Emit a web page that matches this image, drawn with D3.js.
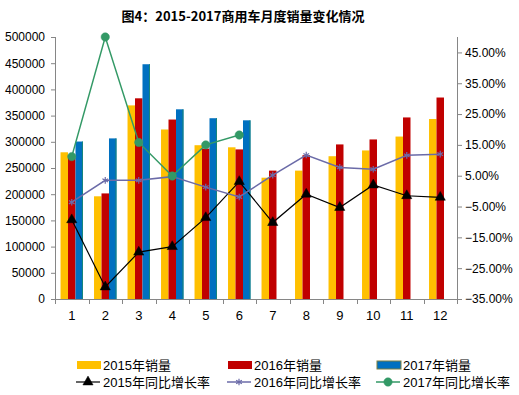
<!DOCTYPE html>
<html>
<head>
<meta charset="utf-8">
<script src="https://cdn.jsdelivr.net/npm/d3@7"></script>
<style>
  body { margin: 0; background: #fff; }
  text { font-family: "Liberation Sans", "Noto Sans CJK SC", sans-serif; }
</style>
</head>
<body>
<div id="viz"></div>
<script>
var months = ['1', '2', '3', '4', '5', '6', '7', '8', '9', '10', '11', '12'];
var years = ['2015', '2016', '2017'];

var sales2015 = [280000, 196000, 369500, 323500, 293500, 289500, 231500, 245000, 272500, 283500, 310000, 343500];
var sales2016 = [270000, 201500, 383000, 342500, 287000, 285500, 245000, 274500, 295000, 304500, 346500, 384500];
var sales2017 = [300500, 306500, 448000, 362000, 345000, 341000];

var growth2015 = [-0.093, -0.311, -0.198, -0.180, -0.086, 0.031, -0.102, -0.010, -0.053, 0.020, -0.015, -0.020];
var growth2016 = [-0.036, 0.035, 0.035, 0.047, 0.013, -0.019, 0.052, 0.117, 0.077, 0.071, 0.116, 0.120];
var growth2017 = [0.112, 0.500, 0.158, 0.049, 0.150, 0.182];

var leftTicks = [0, 50000, 100000, 150000, 200000, 250000, 300000, 350000, 400000, 450000, 500000];
var rightTicks = [-0.35, -0.25, -0.15, -0.05, 0.05, 0.15, 0.25, 0.35, 0.45];

var width = 519,
    height = 395,
    plotL = 55,
    plotR = 457,
    plotT = 37,
    plotB = 299;

var barColors = ['#FFC000', '#C00000', '#0070C0'];
var axisColor = '#868686';

var svg = d3.select('#viz').append('svg')
  .attr('width', width)
  .attr('height', height)
  .style('background', '#fff');

var x0 = d3.scaleBand()
  .domain(months)
  .range([plotL, plotR])
  .paddingInner(0.33)
  .paddingOuter(0.165);

var x1 = d3.scaleBand()
  .domain(years)
  .range([0, x0.bandwidth()]);

var yL = d3.scaleLinear().domain([0, 500000]).range([plotB, plotT]);
var yR = d3.scaleLinear().domain([-0.35, 0.5]).range([plotB, plotT]);

function cx(m) { return x0(m) + x0.bandwidth() / 2; }

// title
svg.append('text')
  .attr('x', 243)
  .attr('y', 21)
  .attr('text-anchor', 'middle')
  .style('font-size', '13px')
  .style('font-weight', 'bold')
  .style('font-family', '"Noto Sans CJK SC", sans-serif')
  .text('图4：2015-2017商用车月度销量变化情况');

// bars
var series = [sales2015, sales2016, sales2017];
series.forEach(function(vals, s) {
  svg.append('g').selectAll('rect')
    .data(vals)
    .enter().append('rect')
      .attr('x', function(d, i) { return x0(months[i]) + x1(years[s]); })
      .attr('width', x1.bandwidth())
      .attr('y', function(d) { return yL(d); })
      .attr('height', function(d) { return plotB - yL(d); })
      .attr('fill', barColors[s]);
});
// teal edge on the 2017 bars
svg.append('g').selectAll('line')
  .data(sales2017)
  .enter().append('line')
    .attr('x1', function(d, i) { return x0(months[i]) + x1('2017') + x1.bandwidth() - 0.5; })
    .attr('x2', function(d, i) { return x0(months[i]) + x1('2017') + x1.bandwidth() - 0.5; })
    .attr('y1', function(d) { return yL(d); })
    .attr('y2', plotB)
    .attr('stroke', '#17867A')
    .attr('stroke-width', 1);

// axes
var axisL = svg.append('g')
  .attr('transform', 'translate(' + plotL + ',0)')
  .call(d3.axisLeft(yL).tickValues(leftTicks).tickFormat(d3.format('d')).tickSize(4).tickPadding(6));

var axisR = svg.append('g')
  .attr('transform', 'translate(' + plotR + ',0)')
  .call(d3.axisRight(yR).tickValues(rightTicks).tickFormat(d3.format('.2%')).tickSize(5).tickPadding(3));

[axisL, axisR].forEach(function(a) {
  a.select('.domain').attr('stroke', axisColor).attr('d', 'M0.5,' + plotT + 'V' + plotB);
  a.selectAll('.tick line').attr('stroke', axisColor);
  a.selectAll('.tick text')
    .attr('fill', '#000')
    .style('font-size', '12px')
    .style('font-family', '"Liberation Sans", sans-serif');
});

// bottom axis with ticks between categories
var step = x0.step();
var bx = svg.append('g');
bx.append('line')
  .attr('x1', plotL).attr('x2', plotR)
  .attr('y1', plotB + 0.5).attr('y2', plotB + 0.5)
  .attr('stroke', axisColor);
bx.selectAll('line.tk')
  .data(d3.range(months.length + 1))
  .enter().append('line')
    .attr('class', 'tk')
    .attr('x1', function(i) { return Math.round(plotL + i * step) + 0.5; })
    .attr('x2', function(i) { return Math.round(plotL + i * step) + 0.5; })
    .attr('y1', plotB)
    .attr('y2', plotB + 5)
    .attr('stroke', axisColor);
bx.selectAll('text')
  .data(months)
  .enter().append('text')
    .attr('x', function(d) { return cx(d); })
    .attr('y', 320)
    .attr('text-anchor', 'middle')
    .style('font-size', '13px')
    .text(function(d) { return d; });

// growth lines
var lineStyles = [
  { vals: growth2015, color: '#000000', width: 1.2, symbol: d3.symbolTriangle, size: 45, fill: true },
  { vals: growth2016, color: '#6B6BA8', width: 1.5, symbol: d3.symbolAsterisk, size: 30, fill: false },
  { vals: growth2017, color: '#339966', width: 1.5, symbol: d3.symbolCircle, size: 55, fill: true }
];

var line = d3.line()
  .x(function(d, i) { return cx(months[i]); })
  .y(function(d) { return yR(d); });

lineStyles.forEach(function(st) {
  svg.append('path')
    .datum(st.vals)
    .attr('d', line)
    .attr('fill', 'none')
    .attr('stroke', st.color)
    .attr('stroke-width', st.width);
  svg.append('g').selectAll('path')
    .data(st.vals)
    .enter().append('path')
      .attr('d', d3.symbol().type(st.symbol).size(st.size))
      .attr('transform', function(d, i) {
        return 'translate(' + cx(months[i]) + ',' + yR(d) + ')';
      })
      .attr('fill', st.fill ? st.color : 'none')
      .attr('stroke', st.color)
      .attr('stroke-width', st.fill ? 0.5 : 1.2);
});

// legend
var legendX = [77, 228, 377];
var legendBars = ['2015年销量', '2016年销量', '2017年销量'];
var legendLines = ['2015年同比增长率', '2016年同比增长率', '2017年同比增长率'];

var lg = svg.append('g');
legendBars.forEach(function(name, i) {
  lg.append('rect')
    .attr('x', legendX[i])
    .attr('y', 361)
    .attr('width', 24)
    .attr('height', 8)
    .attr('fill', barColors[i])
    .attr('stroke', i === 2 ? '#7F7F3F' : 'none')
    .attr('stroke-width', 1);
  lg.append('text')
    .attr('x', legendX[i] + 26)
    .attr('y', 370)
    .style('font-size', '13px')
    .text(name);
});
legendLines.forEach(function(name, i) {
  var st = lineStyles[i];
  lg.append('line')
    .attr('x1', legendX[i] - 1)
    .attr('x2', legendX[i] + 23)
    .attr('y1', 382)
    .attr('y2', 382)
    .attr('stroke', st.color)
    .attr('stroke-width', st.width);
  lg.append('path')
    .attr('d', d3.symbol().type(st.symbol).size(st.size))
    .attr('transform', 'translate(' + (legendX[i] + 11) + ',382)')
    .attr('fill', st.fill ? st.color : 'none')
    .attr('stroke', st.color)
    .attr('stroke-width', st.fill ? 0.5 : 1.2);
  lg.append('text')
    .attr('x', legendX[i] + 26)
    .attr('y', 387)
    .style('font-size', '13px')
    .text(name);
});
</script>
</body>
</html>
